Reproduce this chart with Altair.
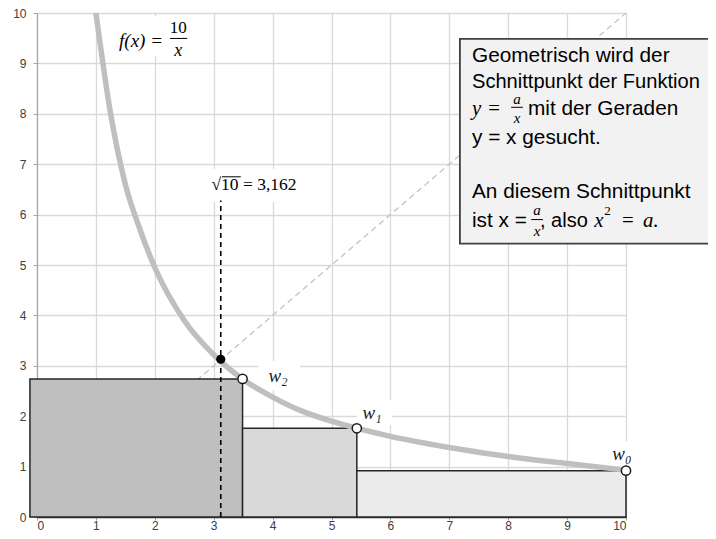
import altair as alt
import pandas as pd

# ---------------- data ----------------
x_ticks = list(range(0, 11))
y_ticks = list(range(0, 11))

curve_x = [1.0, 1.25, 1.5, 1.75, 2.0, 2.5, 3.0, 3.5, 4.0, 4.5, 5.0, 6.0, 7.0, 8.0, 9.0, 10.0]
curve_y = [10.0, 8.0, 6.6, 5.7, 4.95, 3.9, 3.22, 2.73, 2.38, 2.1, 1.9, 1.6, 1.38, 1.2, 1.06, 0.93]

diag_x = [0.0, 10.0]
diag_y = [0.0, 10.0]

rect_names = ["R2", "R1", "R0"]
rect_x0 = [-0.12, 3.49, 5.43]
rect_x1 = [3.49, 5.43, 10.0]
rect_top = [2.74, 1.76, 0.92]

w_names = ["w₀", "w₁", "w₂"]
w_x = [10.0, 5.43, 3.49]
w_y = [0.92, 1.76, 2.74]

root_x = 3.12
root_y = 3.13
root_top = 6.28

# ---------------- styles / layout ----------------
W, H = 589, 504
GRID = "#d9d9d9"
SERIF = "Liberation Serif"
SANS = "Liberation Sans"

xs = alt.Scale(domain=[0, 10], nice=False, zero=False)
ys = alt.Scale(domain=[0, 10], nice=False, zero=False)

base = alt.Chart(pd.DataFrame({"a": [0]}))

axes = base.mark_point(opacity=0).encode(
    x=alt.X("xv:Q", scale=xs, title=None,
            axis=alt.Axis(values=x_ticks, grid=True, gridColor=GRID, gridWidth=1.3,
                          domainColor="#404040", domainWidth=1.5, tickColor="#a6a6a6",
                          tickSize=3, labelPadding=5, labelBaseline="middle",
                          labelFont=SANS, labelFontSize=12,
                          labelColor="#404040", format="d")),
    y=alt.Y("yv:Q", scale=ys, title=None,
            axis=alt.Axis(values=y_ticks, grid=True, gridColor=GRID, gridWidth=1.3,
                          domainColor="#a6a6a6", domainWidth=1.2, tickColor="#a6a6a6",
                          tickSize=4, labelPadding=7, labelFont=SANS, labelFontSize=12,
                          labelColor="#404040", format="d")),
).transform_calculate(xv="0", yv="0")

bg_df = pd.DataFrame({
    "x0": [1.273, 2.852, 3.752, 5.433, 9.643],
    "x1": [2.632, 4.499, 4.465, 6.027, 10.27],
    "y0": [9.149, 6.257, 2.515, 1.822, 1.069],
    "y1": [9.941, 6.911, 3.089, 2.317, 1.505],
})
label_bg = alt.Chart(bg_df).mark_rect(color="white").encode(
    x=alt.X("x0:Q", scale=xs), x2="x1:Q", y=alt.Y("y0:Q", scale=ys), y2="y1:Q")

diag = alt.Chart(pd.DataFrame({"x": diag_x, "y": diag_y})).mark_line(
    color="#c0c0c0", strokeDash=[6, 4], strokeWidth=1.2).encode(
    x=alt.X("x:Q", scale=xs), y=alt.Y("y:Q", scale=ys))

rect_df = pd.DataFrame({"name": rect_names, "x0": rect_x0, "x1": rect_x1,
                        "y0": [0, 0, 0], "y1": rect_top})
rects = alt.Chart(rect_df).mark_rect(stroke="#262626", strokeWidth=1.5).encode(
    x=alt.X("x0:Q", scale=xs), x2="x1:Q",
    y=alt.Y("y0:Q", scale=ys), y2="y1:Q",
    fill=alt.Fill("name:N", scale=alt.Scale(domain=["R2", "R1", "R0"],
                                            range=["#bfbfbf", "#d9d9d9", "#ebebeb"]),
                  legend=None),
    fillOpacity=alt.FillOpacity("name:N", scale=alt.Scale(domain=["R2", "R1", "R0"],
                                                          range=[1, 1, 0.6]), legend=None),
)

vdash = alt.Chart(pd.DataFrame({"x": [root_x], "y0": [0.0], "y1": [root_top]})).mark_rule(
    color="black", strokeDash=[5, 4], strokeWidth=1.6).encode(
    x=alt.X("x:Q", scale=xs), y=alt.Y("y0:Q", scale=ys), y2="y1:Q")

curve = alt.Chart(pd.DataFrame({"x": curve_x, "y": curve_y})).mark_line(
    color="#bfbfbf", strokeWidth=5.5, interpolate="monotone").encode(
    x=alt.X("x:Q", scale=xs), y=alt.Y("y:Q", scale=ys), order="x:Q")

wpts = alt.Chart(pd.DataFrame({"x": w_x, "y": w_y})).mark_point(
    filled=True, fill="white", stroke="#1a1a1a", strokeWidth=1.5, size=85, opacity=1).encode(
    x=alt.X("x:Q", scale=xs), y=alt.Y("y:Q", scale=ys))

root_pt = alt.Chart(pd.DataFrame({"x": [root_x], "y": [root_y]})).mark_point(
    filled=True, color="black", size=85, opacity=1).encode(
    x=alt.X("x:Q", scale=xs), y=alt.Y("y:Q", scale=ys))

wl_df = pd.DataFrame({"t": w_names, "x": [9.932, 5.688, 4.092], "y": [1.248, 2.06, 2.792]})
wlabels = alt.Chart(wl_df).mark_text(font=SERIF, fontStyle="italic", fontSize=19,
                                     color="#1a1a1a", baseline="middle").encode(
    x=alt.X("x:Q", scale=xs), y=alt.Y("y:Q", scale=ys), text="t:N")


def txt(t, x, y, font=SANS, size=20.8, italic=False, align="left"):
    kw = dict(font=font, fontSize=size, color="black", align=align, baseline="middle")
    if italic:
        kw["fontStyle"] = "italic"
    return alt.Chart(pd.DataFrame({"t": [t], "x": [x], "y": [y]})).mark_text(**kw).encode(
        x=alt.X("x:Q", scale=xs), y=alt.Y("y:Q", scale=ys), text="t:N")


def bar(x0, x1, y, w=1.0):
    return alt.Chart(pd.DataFrame({"x0": [x0], "x1": [x1], "y": [y]})).mark_rule(
        color="black", strokeWidth=w).encode(
        x=alt.X("x0:Q", scale=xs), x2="x1:Q", y=alt.Y("y:Q", scale=ys))


fx = [
    txt("f(x) =", 1.766, 9.446, font=SERIF, size=19, italic=True, align="center"),
    txt("10", 2.40, 9.703, font=SERIF, size=17, align="center"),
    bar(2.26, 2.55, 9.495),
    txt("x", 2.40, 9.248, font=SERIF, size=18, italic=True, align="center"),
]

root_lbl = [
    txt("√10 = 3,162", 3.684, 6.594, font=SERIF, size=17.5, align="center"),
    bar(3.14, 3.46, 6.75, 1.0),
]

box = alt.Chart(pd.DataFrame({"x0": [7.18], "x1": [11.6], "y0": [5.426], "y1": [9.485]})).mark_rect(
    fill="#f2f2f2", stroke="#404040", strokeWidth=1.8).encode(
    x=alt.X("x0:Q", scale=xs), x2="x1:Q", y=alt.Y("y0:Q", scale=ys), y2="y1:Q")

box_text = [
    txt("Geometrisch wird der", 7.385, 9.149),
    txt("Schnittpunkt der Funktion", 7.385, 8.634, size=20.1),
    txt("y", 7.385, 8.099, font=SERIF, italic=True),
    txt("=", 7.76, 8.099, font=SERIF, align="center"),
    txt("a", 8.15, 8.30, font=SERIF, size=15, italic=True, align="center"),
    bar(8.05, 8.25, 8.129),
    txt("x", 8.15, 7.92, font=SERIF, size=15, italic=True, align="center"),
    txt("mit der Geraden", 8.336, 8.099),
    txt("y = x gesucht.", 7.385, 7.525),
    txt("An diesem Schnittpunkt", 7.385, 6.455),
    txt("ist x =", 7.385, 5.881),
    txt("a", 8.489, 6.10, font=SERIF, size=15, italic=True, align="center"),
    bar(8.39, 8.59, 5.901),
    txt("x", 8.489, 5.683, font=SERIF, size=15, italic=True, align="center"),
    txt(", also", 8.54, 5.881, size=20),
    txt("x", 9.46, 5.881, font=SERIF, italic=True),
    txt("2", 9.63, 6.079, font=SERIF, size=13),
    txt("=", 10.03, 5.881, font=SERIF, align="center"),
    txt("a.", 10.29, 5.881, font=SERIF, italic=True),
]

chart = alt.layer(
    axes, label_bg, diag, rects, vdash, curve, wpts, root_pt, wlabels,
    *fx, *root_lbl, box, *box_text
).properties(
    width=W, height=H,
    autosize=alt.AutoSizeParams(type="none"),
    padding={"left": 29, "top": 5, "right": 82, "bottom": 14},
).configure_view(stroke=None)

chart.save("out.html", embed_options={"renderer": "svg", "actions": False})
